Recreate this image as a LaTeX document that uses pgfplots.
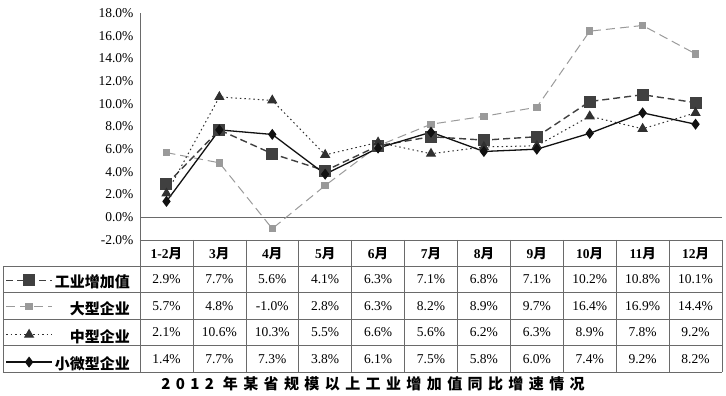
\documentclass[border=0pt]{standalone}
\usepackage{pgfplots}
\pgfplotsset{compat=1.18}
\usepackage{pgfplotstable}
\usepackage{fontspec}
\setmainfont{Liberation Serif}
\newfontfamily\cjk{Noto Sans CJK SC}
\newfontfamily\cjkt[LetterSpace=36]{Noto Sans CJK SC}

\definecolor{cind}{HTML}{404040}
\definecolor{clarge}{HTML}{9A9A9A}
\definecolor{cmid}{HTML}{303030}
\definecolor{csmall}{HTML}{111111}
\definecolor{cgrid}{HTML}{6A6A6A}

\pgfplotstableread{
x ind large mid small
0 2.9 5.7 2.1 1.4
1 7.7 4.8 10.6 7.7
2 5.6 -1.0 10.3 7.3
3 4.1 2.8 5.5 3.8
4 6.3 6.3 6.6 6.1
5 7.1 8.2 5.6 7.5
6 6.8 8.9 6.2 5.8
7 7.1 9.7 6.3 6.0
8 10.2 16.4 8.9 7.4
9 10.8 16.9 7.8 9.2
10 10.1 14.4 9.2 8.2
}\data

\begin{document}
\begin{tikzpicture}
\begin{axis}[
  at={(0pt,0pt)}, anchor=south west,
  scale only axis, width=582pt, height=227pt,
  xmin=-0.5, xmax=10.5, ymin=-2, ymax=18,
  axis y line*=left, axis x line*=bottom,
  axis line style={cgrid, line width=0.6pt, -},
  xtick=\empty,
  ytick={-2,0,...,18},
  major tick length=0pt,
  yticklabel={\pgfmathprintnumber[fixed,fixed zerofill,precision=1]{\tick}\%},
  /pgf/number format/assume math mode=true,
  yticklabel style={font=\fontsize{13.5pt}{14pt}\selectfont, xshift=-3pt},
  clip=false,
  legend cell align=right,
  legend style={at={(-0.01203,-0.1449)}, anchor=north east, draw=none, fill=none,
    font={\cjk\bfseries\fontsize{15pt}{15pt}\selectfont},
    row sep=11.4pt, column sep=2pt,
    nodes={inner sep=0pt, text height=11pt, text depth=4pt}},
  legend image code/.code={\draw[mark repeat=2,mark phase=2,#1] plot coordinates {(0pt,4pt) (23pt,4pt) (46pt,4pt)};},
]
\draw[cgrid, line width=0.6pt] (axis cs:-0.5,0) -- (axis cs:10.5,0);
\addplot[color=cind, line width=1.4pt, dash pattern=on 7pt off 4pt, mark=square*, mark size=5.3pt, mark options={solid, fill=cind}] table[x=x,y=ind]{\data};
\addplot[color=clarge, line width=1pt, dash pattern=on 9pt off 5pt, mark=square*, mark size=3.2pt, mark options={solid, fill=clarge}] table[x=x,y=large]{\data};
\addplot[color=cmid, line width=1pt, dash pattern=on 1.5pt off 3pt, mark=triangle*, mark size=5pt, mark options={solid, fill=cmid}] table[x=x,y=mid]{\data};
\addplot[color=csmall, line width=1.3pt, mark=diamond*, mark size=4.5pt, mark options={solid, fill=csmall}] table[x=x,y=small]{\data};
\legend{工业增加值,大型企业,中型企业,小微型企业}
\end{axis}
% table grid
\begin{scope}[cgrid, line width=0.6pt]
\draw (0pt,0pt) -- (582pt,0pt);
\foreach \k in {1,2,3,4,5} {\draw (-137pt,-26.4*\k pt) -- (582pt,-26.4*\k pt);}
\foreach \i in {0,...,11} {\draw (52.909*\i pt,0pt) -- (52.909*\i pt,-132pt);}
\draw (-137pt,-26.4pt) -- (-137pt,-132pt);
\end{scope}
% header
\foreach \m [count=\i from 0] in {1-2,3,4,5,6,7,8,9,10,11,12}
  {\node[font=\fontsize{13.5pt}{14pt}\selectfont\bfseries] at ({(\i+0.5)*52.909pt},-13.2pt) {\m{\cjk 月}};}
% rows
\foreach \v [count=\i from 0] in {2.9,7.7,5.6,4.1,6.3,7.1,6.8,7.1,10.2,10.8,10.1}
  {\node[font=\fontsize{13.5pt}{14pt}\selectfont] at ({(\i+0.5)*52.909pt},-39.6pt) {\v\%};}
\foreach \v [count=\i from 0] in {5.7,4.8,-1.0,2.8,6.3,8.2,8.9,9.7,16.4,16.9,14.4}
  {\node[font=\fontsize{13.5pt}{14pt}\selectfont] at ({(\i+0.5)*52.909pt},-66pt) {\v\%};}
\foreach \v [count=\i from 0] in {2.1,10.6,10.3,5.5,6.6,5.6,6.2,6.3,8.9,7.8,9.2}
  {\node[font=\fontsize{13.5pt}{14pt}\selectfont] at ({(\i+0.5)*52.909pt},-92.4pt) {\v\%};}
\foreach \v [count=\i from 0] in {1.4,7.7,7.3,3.8,6.1,7.5,5.8,6.0,7.4,9.2,8.2}
  {\node[font=\fontsize{13.5pt}{14pt}\selectfont] at ({(\i+0.5)*52.909pt},-118.8pt) {\v\%};}
% title
\node[font={\cjkt\bfseries\fontsize{15pt}{15pt}\selectfont}] at (233pt,-144pt) {2012 年某省规模以上工业增加值同比增速情况};
\path (-140pt,-156pt) rectangle (586pt,240pt);
\end{tikzpicture}
\end{document}
